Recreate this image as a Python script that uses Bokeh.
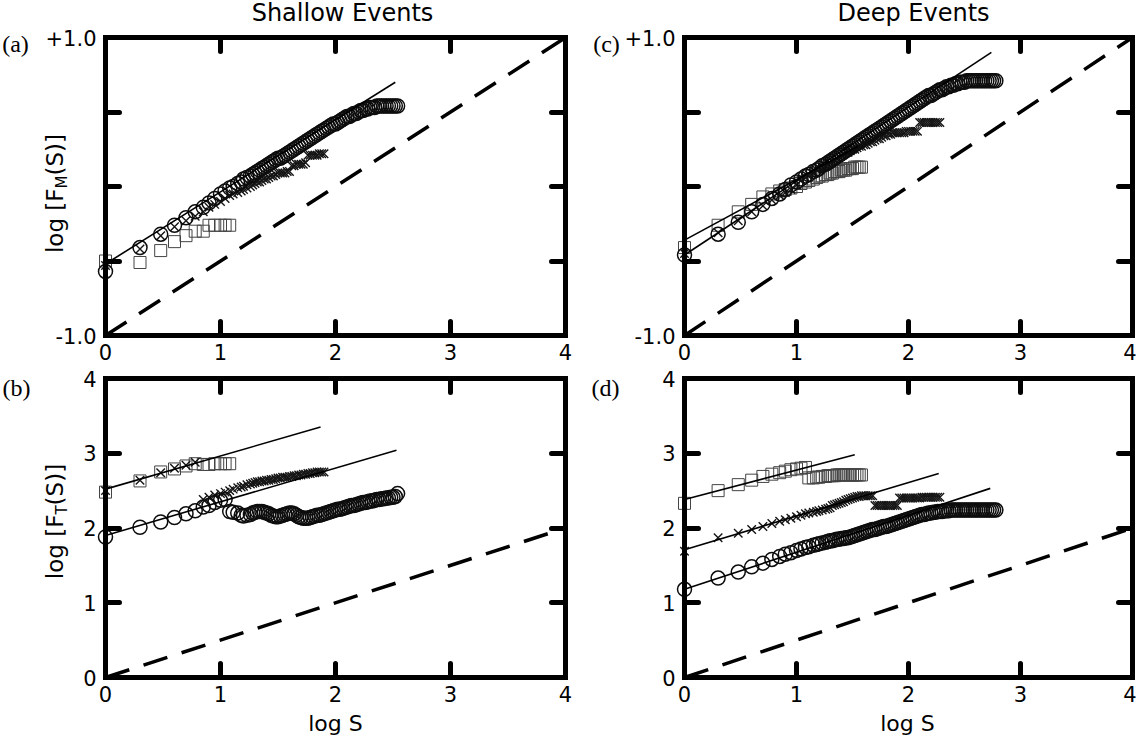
from bokeh.plotting import figure
from bokeh.layouts import column, row
from bokeh.models import FixedTicker, LinearAxis, Label, Range1d
from bokeh.embed import file_html
from bokeh.resources import INLINE

# ---------------- data ----------------
# log S positions (S = 1, 2, 3, ... then a dense reading grid)
log_s = [0.00, 0.30, 0.48, 0.60, 0.70, 0.78, 0.85, 0.90, 0.95, 1.00,
         1.04, 1.08, 1.11, 1.15, 1.18, 1.20, 1.23, 1.26, 1.28, 1.30,
         1.32, 1.34, 1.36, 1.38, 1.40, 1.42, 1.44, 1.46, 1.48, 1.50,
         1.52, 1.54, 1.56, 1.58, 1.60, 1.62, 1.64, 1.66, 1.68, 1.70,
         1.72, 1.74, 1.76, 1.78, 1.80, 1.82, 1.84, 1.86, 1.88, 1.90,
         1.92, 1.94, 1.96, 1.98, 2.00, 2.02, 2.04, 2.06, 2.08, 2.10,
         2.12, 2.14, 2.16, 2.18, 2.20, 2.22, 2.24, 2.26, 2.28, 2.30,
         2.32, 2.34, 2.36, 2.38, 2.40, 2.42, 2.44, 2.46, 2.48, 2.50,
         2.52, 2.54, 2.56, 2.58, 2.60, 2.62, 2.64, 2.66, 2.68, 2.70,
         2.72, 2.74, 2.76, 2.78]

# (a) Shallow, log F_M
a_circles = [-0.57, -0.41, -0.32, -0.26, -0.21, -0.17, -0.14, -0.11, -0.08, -0.05,
             -0.03, -0.01, 0.00, 0.02, 0.03, 0.05, 0.06, 0.07, 0.08, 0.09,
             0.10, 0.11, 0.12, 0.13, 0.14, 0.15, 0.16, 0.17, 0.18, 0.19,
             0.19, 0.20, 0.21, 0.22, 0.23, 0.24, 0.25, 0.26, 0.27, 0.28,
             0.29, 0.30, 0.31, 0.32, 0.33, 0.34, 0.35, 0.36, 0.37, 0.38,
             0.39, 0.40, 0.41, 0.42, 0.42, 0.43, 0.44, 0.45, 0.46, 0.47,
             0.47, 0.48, 0.49, 0.49, 0.50, 0.51, 0.51, 0.52, 0.52, 0.53,
             0.53, 0.53, 0.54, 0.54, 0.54, 0.54, 0.54, 0.54, 0.54, 0.54,
             0.54, 0.54]
a_crosses = [-0.53, -0.42, -0.33, -0.27, -0.23, -0.20, -0.17, -0.14, -0.12, -0.10,
             -0.08, -0.06, -0.05, -0.04, -0.03, -0.02, -0.01, 0.00, 0.01, 0.02,
             0.03, 0.03, 0.04, 0.05, 0.05, 0.06, 0.07, 0.07, 0.08, 0.09,
             0.09, 0.09, 0.09, 0.10, 0.10, 0.14, 0.14, 0.15, 0.15, 0.15,
             0.15, 0.16, 0.21, 0.21, 0.21, 0.21, 0.21, 0.22, 0.22, 0.22]
a_squares = [-0.50, -0.51, -0.43, -0.37, -0.33, -0.30, -0.30, -0.26, -0.26, -0.26,
             -0.26, -0.26]
a_fit_x = [[0.0, 2.52]]
a_fit_y = [[-0.52, 0.70]]

# (b) Shallow, log F_T
b_circles = [1.88, 2.01, 2.08, 2.14, 2.19, 2.23, 2.28, 2.30, 2.34, 2.37,
             2.38, 2.22, 2.21, 2.20, 2.17, 2.16, 2.17, 2.18, 2.20, 2.21,
             2.22, 2.22, 2.22, 2.21, 2.20, 2.19, 2.17, 2.16, 2.15, 2.15,
             2.16, 2.17, 2.18, 2.19, 2.20, 2.20, 2.19, 2.17, 2.15, 2.14,
             2.13, 2.13, 2.13, 2.14, 2.15, 2.16, 2.17, 2.17, 2.18, 2.19,
             2.20, 2.21, 2.22, 2.23, 2.24, 2.25, 2.25, 2.26, 2.27, 2.28,
             2.29, 2.30, 2.30, 2.31, 2.32, 2.33, 2.34, 2.34, 2.35, 2.36,
             2.36, 2.37, 2.38, 2.38, 2.39, 2.39, 2.40, 2.40, 2.41, 2.41,
             2.42, 2.46]
b_crosses = [2.50, 2.64, 2.74, 2.80, 2.84, 2.88, 2.38, 2.41, 2.44, 2.46,
             2.48, 2.50, 2.52, 2.54, 2.55, 2.56, 2.58, 2.59, 2.60, 2.61,
             2.62, 2.62, 2.63, 2.63, 2.64, 2.64, 2.65, 2.65, 2.66, 2.67,
             2.67, 2.68, 2.68, 2.68, 2.69, 2.69, 2.70, 2.70, 2.71, 2.71,
             2.72, 2.72, 2.73, 2.73, 2.74, 2.74, 2.75, 2.75, 2.75, 2.75]
b_squares = [2.48, 2.63, 2.75, 2.79, 2.83, 2.86, 2.85, 2.85, 2.86, 2.86,
             2.86, 2.86]
b_fit_x = [[0.0, 1.87], [0.0, 2.53]]
b_fit_y = [[2.52, 3.35], [1.90, 3.04]]

# (c) Deep, log F_M
c_circles = [-0.46, -0.32, -0.24, -0.17, -0.12, -0.08, -0.05, -0.02, 0.01, 0.03,
             0.05, 0.07, 0.08, 0.10, 0.11, 0.12, 0.14, 0.15, 0.16, 0.17,
             0.18, 0.19, 0.20, 0.21, 0.22, 0.23, 0.24, 0.25, 0.26, 0.27,
             0.28, 0.29, 0.30, 0.31, 0.32, 0.33, 0.34, 0.35, 0.36, 0.37,
             0.38, 0.39, 0.40, 0.41, 0.42, 0.43, 0.44, 0.45, 0.46, 0.47,
             0.48, 0.49, 0.50, 0.51, 0.52, 0.53, 0.54, 0.55, 0.56, 0.57,
             0.58, 0.59, 0.60, 0.61, 0.61, 0.62, 0.63, 0.64, 0.65, 0.65,
             0.66, 0.67, 0.67, 0.68, 0.68, 0.69, 0.69, 0.70, 0.70, 0.70,
             0.71, 0.71, 0.71, 0.71, 0.71, 0.71, 0.71, 0.71, 0.71, 0.71,
             0.71, 0.71, 0.71, 0.71]
c_crosses = [-0.45, -0.31, -0.23, -0.17, -0.13, -0.09, -0.06, -0.04, -0.02, 0.01,
             0.04, 0.06, 0.08, 0.09, 0.11, 0.12, 0.13, 0.14, 0.15, 0.16,
             0.17, 0.18, 0.19, 0.20, 0.21, 0.22, 0.23, 0.23, 0.24, 0.25,
             0.25, 0.26, 0.27, 0.27, 0.28, 0.28, 0.29, 0.30, 0.30, 0.31,
             0.32, 0.32, 0.33, 0.34, 0.34, 0.35, 0.35, 0.36, 0.36, 0.36,
             0.36, 0.36, 0.36, 0.37, 0.37, 0.37, 0.37, 0.37, 0.37, 0.43,
             0.43, 0.43, 0.43, 0.43, 0.43, 0.43, 0.43, 0.43, 0.43]
c_squares = [-0.41, -0.26, -0.17, -0.12, -0.07, -0.05, -0.03, -0.02, -0.01, 0.00,
             0.02, 0.03, 0.04, 0.05, 0.06, 0.07, 0.07, 0.08, 0.08, 0.09,
             0.09, 0.10, 0.10, 0.10, 0.11, 0.11, 0.11, 0.12, 0.12, 0.12,
             0.13, 0.13, 0.13, 0.13]
c_fit_x = [[0.0, 1.55], [0.0, 2.74]]
c_fit_y = [[-0.36, 0.27], [-0.46, 0.90]]

# (d) Deep, log F_T
d_circles = [1.18, 1.33, 1.41, 1.48, 1.53, 1.58, 1.62, 1.65, 1.67, 1.70,
             1.72, 1.74, 1.75, 1.77, 1.78, 1.79, 1.80, 1.81, 1.82, 1.83,
             1.83, 1.84, 1.85, 1.85, 1.86, 1.86, 1.87, 1.87, 1.88, 1.89,
             1.90, 1.91, 1.92, 1.93, 1.94, 1.95, 1.96, 1.97, 1.98, 1.98,
             1.99, 2.00, 2.01, 2.02, 2.02, 2.03, 2.04, 2.05, 2.06, 2.07,
             2.08, 2.09, 2.10, 2.11, 2.12, 2.13, 2.14, 2.15, 2.16, 2.17,
             2.18, 2.18, 2.19, 2.20, 2.20, 2.21, 2.21, 2.22, 2.22, 2.22,
             2.23, 2.23, 2.23, 2.24, 2.24, 2.24, 2.24, 2.24, 2.24, 2.24,
             2.24, 2.24, 2.24, 2.24, 2.24, 2.24, 2.24, 2.24, 2.24, 2.24,
             2.24, 2.24, 2.24, 2.24]
d_crosses = [1.69, 1.87, 1.93, 1.98, 2.02, 2.06, 2.09, 2.11, 2.13, 2.15,
             2.17, 2.19, 2.20, 2.21, 2.22, 2.23, 2.24, 2.25, 2.26, 2.27,
             2.30, 2.31, 2.32, 2.33, 2.34, 2.35, 2.37, 2.38, 2.39, 2.40,
             2.41, 2.42, 2.42, 2.43, 2.43, 2.43, 2.43, 2.43, 2.43, 2.30,
             2.30, 2.30, 2.30, 2.30, 2.30, 2.30, 2.30, 2.30, 2.30, 2.30,
             2.40, 2.40, 2.40, 2.40, 2.40, 2.40, 2.40, 2.40, 2.40, 2.40,
             2.41, 2.41, 2.41, 2.41, 2.41, 2.41, 2.41, 2.41, 2.41]
d_squares = [2.33, 2.50, 2.58, 2.64, 2.69, 2.72, 2.74, 2.76, 2.78, 2.79,
             2.80, 2.81, 2.67, 2.67, 2.68, 2.68, 2.69, 2.69, 2.70, 2.70,
             2.70, 2.70, 2.71, 2.71, 2.71, 2.71, 2.71, 2.71, 2.71, 2.71,
             2.71, 2.71, 2.71, 2.71]
d_fit_x = [[0.0, 1.52], [0.0, 2.27], [0.0, 2.73]]
d_fit_y = [[2.38, 2.98], [1.71, 2.73], [1.18, 2.53]]

# reference slope-1/2 dashed lines
fm_ref_x = [0.0, 4.0]
fm_ref_y = [-1.0, 1.0]
ft_ref_x = [0.0, 4.0]
ft_ref_y = [0.0, 2.0]

x_span = (0.0, 4.0)
fm_span = (-1.0, 1.0)
ft_span = (0.0, 4.0)
x_ticks = [0, 1, 2, 3, 4]
fm_major = [-1, 1]
fm_minor = [-0.5, 0, 0.5]
fm_labels = {1: "+1.0", -1: "-1.0"}
ft_ticks = [0, 1, 2, 3, 4]

FONT = "DejaVu Sans"
SERIF = "Liberation Serif"
TICK_PX = "21px"

# approximate DejaVu Sans advance widths (units / 2048) for label layout
ADV = {'l': 569, 'o': 1253, 'g': 1300, ' ': 651, '[': 799, 'F': 1178, 'M': 1767,
       'T': 1251, '(': 799, 'S': 1300, ')': 799, ']': 799}


def text_w(s, size):
    return sum(ADV[c] for c in s) / 2048.0 * size


def style_axis(ax, ticker, show_labels=True, overrides=None, minor=False, standoff=8):
    ax.ticker = ticker
    ax.axis_line_width = 5
    ax.axis_line_color = "black"
    ax.axis_line_cap = "square"
    ax.major_tick_in = 14
    ax.major_tick_out = 0
    ax.major_tick_line_width = 5
    ax.major_tick_line_color = "black"
    ax.major_tick_line_cap = "round"
    if minor:
        ax.minor_tick_in = 14
        ax.minor_tick_out = 0
        ax.minor_tick_line_width = 5
        ax.minor_tick_line_color = "black"
        ax.minor_tick_line_cap = "round"
    else:
        ax.minor_tick_line_color = None
    if show_labels:
        ax.major_label_text_font = FONT
        ax.major_label_text_font_size = TICK_PX
        ax.major_label_text_color = "black"
        ax.major_label_standoff = standoff
        if overrides:
            ax.major_label_overrides = overrides
    else:
        ax.major_label_text_font_size = "0px"
        ax.major_label_standoff = 0
        ax.major_label_text_color = None


class Panel:
    """A figure whose frame covers the whole canvas; the boxed plot area is
    drawn by axes pinned (fixed_location) at the box edges."""

    def __init__(self, left, top, w, h, box, yspan, kind):
        bl, br, bt, bb = box          # page pixel edges of the boxed area
        self.left, self.top, self.w, self.h = left, top, w, h
        kx = (br - bl) / (x_span[1] - x_span[0])
        ky = (bb - bt) / (yspan[1] - yspan[0])
        xr = (x_span[0] - (bl - left) / kx, x_span[1] + (left + w - br) / kx)
        yr = (yspan[0] - (top + h - bb) / ky, yspan[1] + (bt - top) / ky)
        p = figure(width=w, height=h, x_range=Range1d(*xr), y_range=Range1d(*yr),
                   output_backend="svg", toolbar_location=None,
                   min_border_left=0, min_border_right=0,
                   min_border_top=0, min_border_bottom=0)
        p.grid.visible = False
        p.outline_line_color = None
        p.background_fill_color = "white"
        p.border_fill_color = "white"

        xb = p.xaxis[0]
        xb.fixed_location = yspan[0]
        xb.bounds = x_span
        style_axis(xb, FixedTicker(ticks=x_ticks), standoff=8)
        top_ax = LinearAxis(fixed_location=yspan[1], bounds=x_span)
        style_axis(top_ax, FixedTicker(ticks=x_ticks), show_labels=False)
        p.add_layout(top_ax, "above")

        yl = p.yaxis[0]
        yl.fixed_location = x_span[0]
        yl.bounds = yspan
        right_ax = LinearAxis(fixed_location=x_span[1], bounds=yspan)
        if kind == "fm":
            style_axis(yl, FixedTicker(ticks=fm_major, minor_ticks=fm_minor),
                       overrides=fm_labels, minor=True, standoff=9)
            style_axis(right_ax, FixedTicker(ticks=fm_major, minor_ticks=fm_minor),
                       show_labels=False, minor=True)
        else:
            style_axis(yl, FixedTicker(ticks=ft_ticks), standoff=9)
            style_axis(right_ax, FixedTicker(ticks=ft_ticks), show_labels=False)
        p.add_layout(right_ax, "right")
        self.p = p

    def data(self, circles, crosses, squares, fit_x, fit_y, ref_x, ref_y):
        p = self.p
        p.line(ref_x, ref_y, line_color="black", line_width=3.5, line_dash="25 15")
        p.scatter(log_s[:len(squares)], squares, marker="square", size=12,
                  fill_color=None, line_color="#444444", line_width=1)
        p.scatter(log_s[:len(crosses)], crosses, marker="x", size=12,
                  line_color="#151515", line_width=1.4)
        p.scatter(log_s[:len(circles)], circles, marker="circle", size=14,
                  fill_color=None, line_color="#0d0d0d", line_width=1.5)
        for fx, fy in zip(fit_x, fit_y):
            p.line(fx, fy, line_color="black", line_width=1.6)

    def text(self, text, page_x, page_y, font=FONT, size="22px", align="center",
             baseline="middle", angle=0):
        self.p.add_layout(Label(x=page_x - self.left, y=self.top + self.h - page_y,
                                x_units="screen", y_units="screen", text=text,
                                text_font=font, text_font_size=size, text_color="black",
                                text_align=align, text_baseline=baseline,
                                angle=angle, angle_units="deg"))

    def ylabel(self, sub, base_x, center_y, size=23, subsize=15):
        # rotated "log [F_sub(S)]", reading bottom to top
        w1 = text_w("log [F", size)
        w2 = text_w(sub, subsize)
        w3 = text_w("(S)]", size)
        start = center_y + (w1 + w2 + w3) / 2.0      # page y of the text start (bottom)
        self.text("log [F", base_x, start, size=f"{size}px", align="left",
                  baseline="alphabetic", angle=90)
        self.text(sub, base_x + 7, start - w1, size=f"{subsize}px", align="left",
                  baseline="alphabetic", angle=90)
        self.text("(S)]", base_x, start - w1 - w2, size=f"{size}px", align="left",
                  baseline="alphabetic", angle=90)


# ---------------- panels (page pixel geometry) ----------------
A = Panel(8, 8, 574, 366, (113, 573, 45, 343), fm_span, "fm")
A.data(a_circles, a_crosses, a_squares, a_fit_x, a_fit_y, fm_ref_x, fm_ref_y)
A.text("Shallow Events", 350, 20, size="24px")
A.text("(a)", 23, 51, font=SERIF, size="24px")
A.ylabel("M", 62, 201)

C = Panel(582, 8, 562, 366, (692, 1140, 45, 343), fm_span, "fm")
C.data(c_circles, c_crosses, c_squares, c_fit_x, c_fit_y, fm_ref_x, fm_ref_y)
C.text("Deep Events", 921, 20, size="24px")
C.text("(c)", 614, 51, font=SERIF, size="24px")

B = Panel(8, 374, 574, 370, (113, 573, 386, 685), ft_span, "ft")
B.data(b_circles, b_crosses, b_squares, b_fit_x, b_fit_y, ft_ref_x, ft_ref_y)
B.text("(b)", 24, 395, font=SERIF, size="24px")
B.ylabel("T", 62, 529)
B.text("log S", 343, 731, size="22px")

D = Panel(582, 374, 562, 370, (692, 1140, 386, 685), ft_span, "ft")
D.data(d_circles, d_crosses, d_squares, d_fit_x, d_fit_y, ft_ref_x, ft_ref_y)
D.text("(d)", 613, 395, font=SERIF, size="24px")
D.text("log S", 915, 731, size="22px")

layout = column(row(A.p, C.p), row(B.p, D.p))
open("out.html", "w").write(file_html(layout, INLINE))
